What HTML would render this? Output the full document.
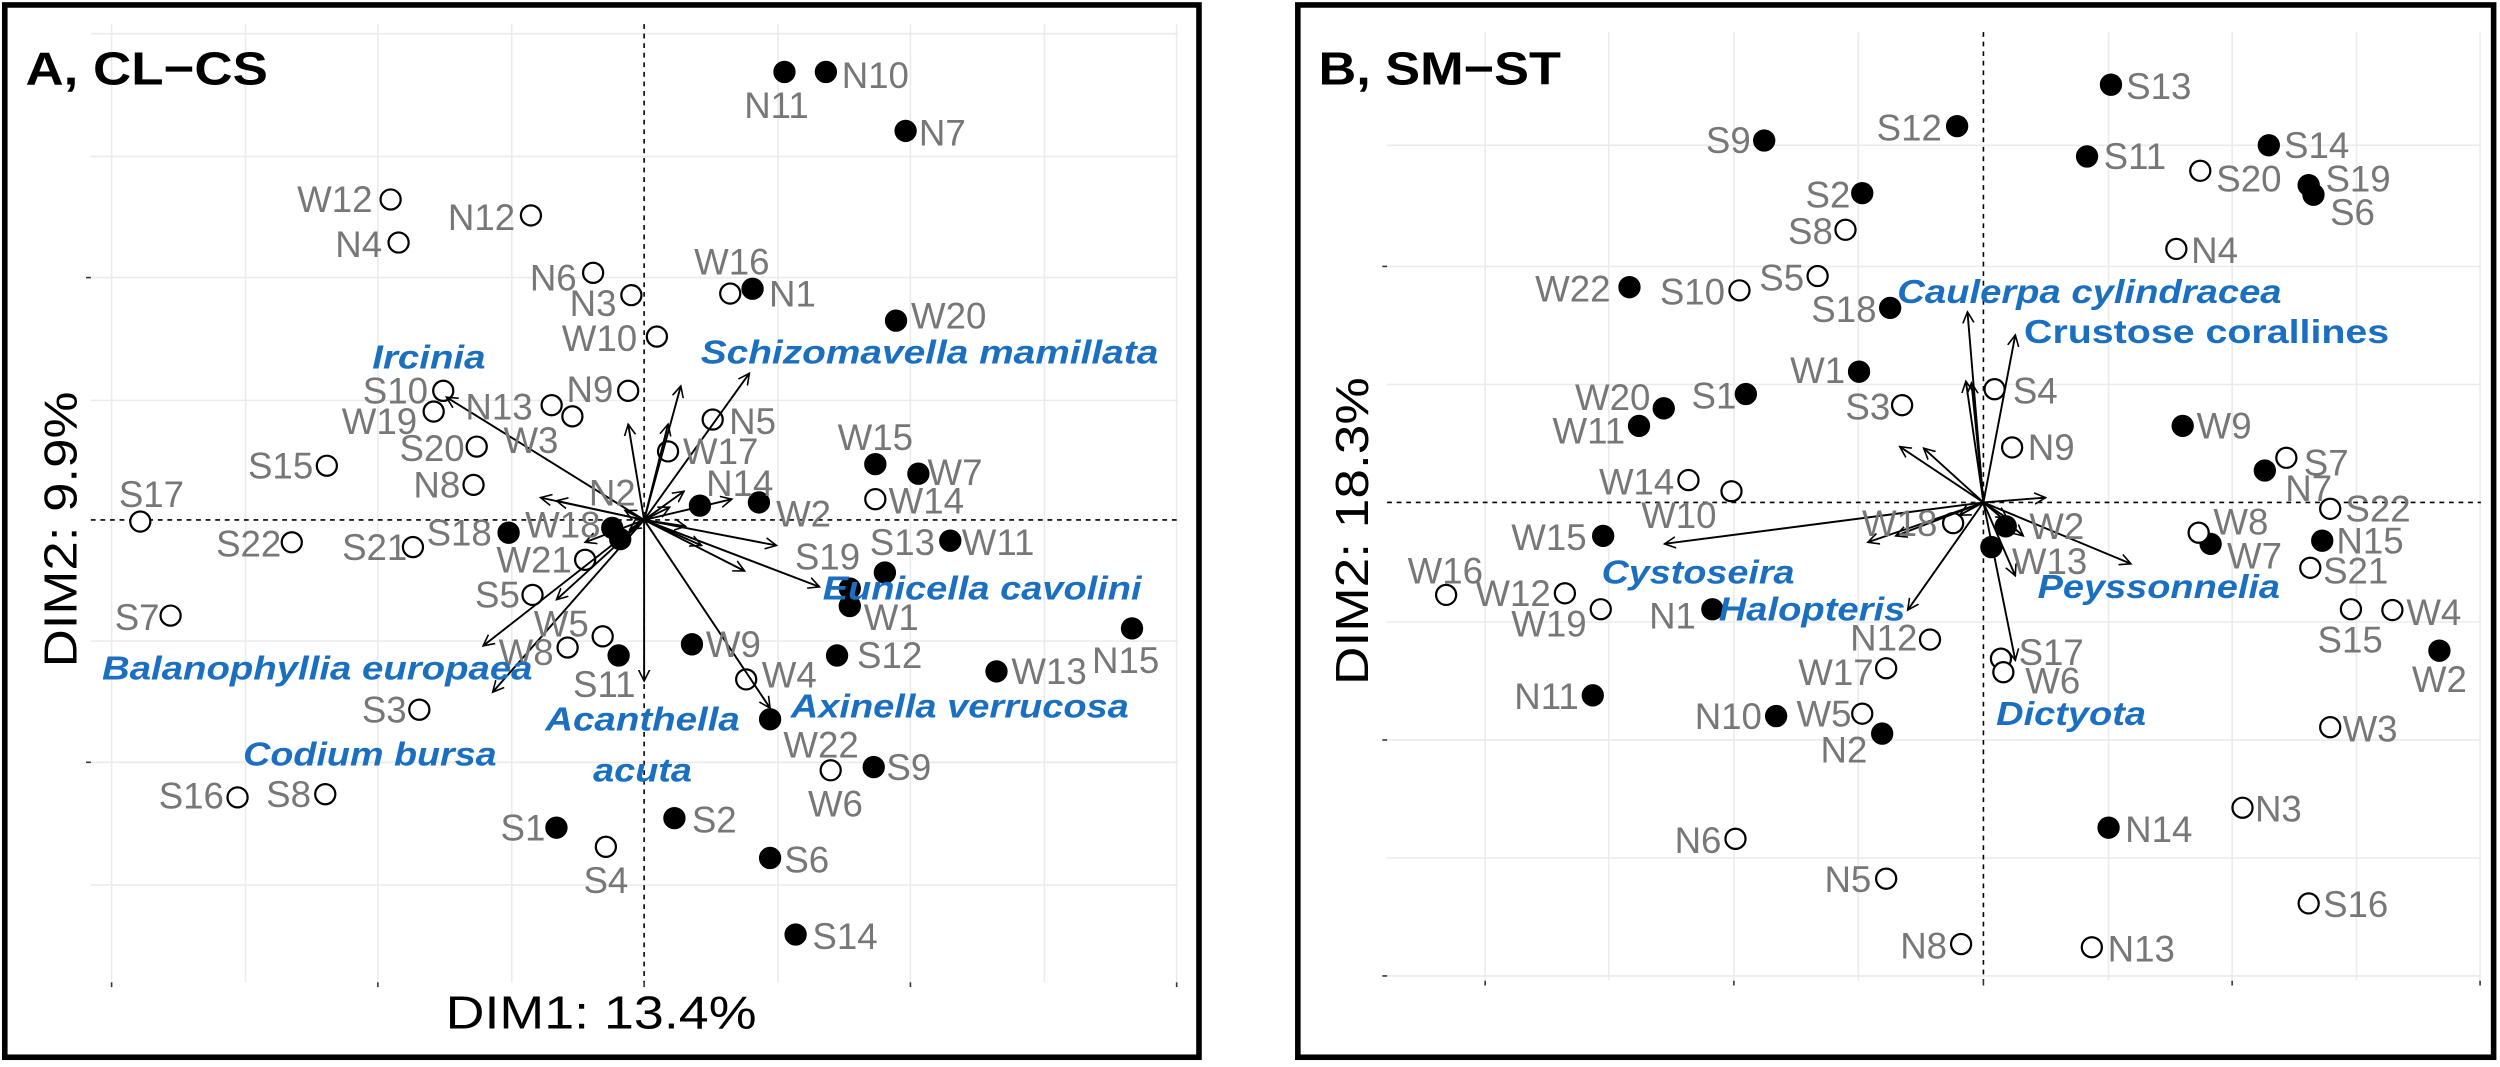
<!DOCTYPE html>
<html><head><meta charset="utf-8"><style>
html,body{margin:0;padding:0;background:#fff;}
svg{display:block;font-family:"Liberation Sans",sans-serif;}
</style></head><body>
<svg id="fig" width="2500" height="1067" viewBox="0 0 1568 669" xmlns="http://www.w3.org/2000/svg">
<defs><marker id="ah" markerWidth="8" markerHeight="8" refX="7" refY="4" orient="auto" markerUnits="userSpaceOnUse"><path d="M0,0.5 L7,4 L0,7.5" fill="none" stroke="#000" stroke-width="1"/></marker></defs>
<rect x="0" y="0" width="1568" height="669" fill="#fff"/>
<g id="panelA"></g>
<g id="panelB"></g>
</svg>
<script>
// ---------- Panel A data (units = tenths of plot offset from origin) ----------
const aNames=["N11","N10","N7","N1","W20","W15","W7","W11","S13","S19","W1","W2","N14","S18","W18","N2","S11","W9","S12","W13","N15","W22","S9","S2","S1","S6","S14","W12","N12","N4","N6","N3","W16","W10","S10","N9","N13","W3","W19","N5","S20","W17","S15","N8","W14","S17","S22","S21","W21","S5","S7","W5","W8","W4","S3","W6","S16","S8","S4"];
const aFilled=[1,1,1,1,1,1,1,1,1,1,1,1,1,1,1,1,1,1,1,1,1,1,1,1,1,1,1,0,0,0,0,0,0,0,0,0,0,0,0,0,0,0,0,0,0,0,0,0,0,0,0,0,0,0,0,0,0,0,0];
const aX=[8.8,11.4,16.4,6.8,15.8,14.5,17.2,19.2,15.1,12.9,12.9,7.2,3.5,-8.5,-2.0,-1.5,-1.6,3.0,12.1,22.1,30.6,7.9,14.4,1.9,-5.5,7.9,9.5,-15.9,-7.1,-15.4,-3.2,-0.8,5.4,0.8,-12.6,-1.0,-5.8,-4.5,-13.2,4.3,-10.5,1.5,-19.9,-10.7,14.5,-31.6,-22.1,-14.5,-3.7,-7.0,-29.7,-2.6,-4.8,6.4,-14.1,11.7,-25.5,-20.0,-2.4];
const aY=[28.1,28.1,24.4,14.5,12.5,3.5,2.9,-1.3,-3.3,-4.3,-5.4,1.1,0.9,-0.8,-0.5,-1.2,-8.5,-7.8,-8.5,-9.5,-6.8,-12.5,-15.5,-18.7,-19.3,-21.2,-26.0,20.1,19.1,17.4,15.5,14.1,14.2,11.5,8.1,8.1,7.2,6.5,6.8,6.3,4.6,4.3,3.4,2.2,1.3,-0.1,-1.4,-1.7,-2.5,-4.7,-6.0,-7.3,-8.0,-10.0,-11.9,-15.7,-17.4,-17.2,-20.5];
const aLabOff=[[-5,21],[31,2],[23,1],[25,3],[33,-3],[0,-17],[23,-1],[30,1],[11,-19],[-14,-20],[26,7],[28,7],[25,-14],[-31,0],[-31,-2],[-5,-29],[-9,18],[26,0],[33,0],[33,0],[-4,20],[32,16],[22,0],[25,1],[-21,0],[23,1],[31,1],[-35,0],[-31,1],[-25,1],[-25,3],[-24,5],[1,-20],[-36,1],[-30,0],[-24,-1],[-33,1],[-26,15],[-34,6],[25,1],[-28,1],[33,0],[-29,0],[-23,0],[32,1],[7,-17],[-27,1],[-24,0],[-32,0],[-22,0],[-21,1],[-26,-8],[-26,3],[27,-3],[-22,0],[3,21],[-29,-1],[-23,0],[0,21]];
const aArrX=[-12.4,6.6,11.0,-10.1,-9.5,7.9,0,2.3,-1.0,-6.5,-5.5,8.3,6.3,5.5,3.6,-5.5,-3.7,1.5,2.5,1.6,-1.2,2.6,-0.9];
const aArrY=[7.7,9.2,-4.2,-7.9,-10.8,-11.8,-10.1,8.4,6.0,1.4,1.2,-1.6,-3.2,1.3,-1.6,-5.0,-1.4,6.0,1.8,0.8,0.6,-0.4,-0.6];
const aSpecies=["Ircinia","Schizomavella mamillata","Eunicella cavolini","Balanophyllia europaea","Axinella verrucosa","Acanthella","acuta","Codium bursa"];
// ---------- Panel B data ----------
const bNames=["S13","S12","S9","S11","S14","S19","S6","S2","W22","S18","W1","S1","W20","W11","W9","N7","W15","W2","W13","W7","N15","N1","W2","N11","N10","N2","N14","S20","S8","N4","S5","S10","S4","S3","N9","S7","W14","W10","S22","W18","W8","S21","W16","W12","W19","S15","W4","N12","S17","W6","W17","W5","W3","N3","N6","N5","S16","N8","N13"];
const bFilled=[1,1,1,1,1,1,1,1,1,1,1,1,1,1,1,1,1,1,1,1,1,1,1,1,1,1,1,0,0,0,0,0,0,0,0,0,0,0,0,0,0,0,0,0,0,0,0,0,0,0,0,0,0,0,0,0,0,0,0];
const bX=[8.0,-1.65,-13.75,6.5,17.9,20.4,20.7,-7.6,-22.2,-5.85,-7.8,-14.9,-20.05,-21.6,12.5,17.65,-23.85,1.4,0.5,14.25,21.25,-17.0,28.6,-24.5,-13.0,-6.35,7.85,13.6,-8.65,12.1,-10.4,-15.3,0.7,-5.1,1.8,19.0,-18.5,-15.8,21.75,-1.9,13.5,20.5,-33.7,-26.25,-24.0,23.05,25.65,-3.35,1.1,1.25,-6.1,-7.6,21.75,16.25,-15.55,-6.1,20.4,-1.4,6.8];
const bY=[26.2,23.6,22.7,21.7,22.4,19.9,19.3,19.4,13.5,12.2,8.2,6.8,5.9,4.8,4.8,2.0,-2.1,-1.5,-2.8,-2.6,-2.4,-6.7,-9.3,-12.1,-13.4,-14.5,-20.4,20.8,17.1,15.9,14.2,13.3,7.1,6.1,3.45,2.8,1.4,0.7,-0.4,-1.3,-1.9,-4.1,-5.8,-5.7,-6.7,-6.7,-6.75,-8.6,-9.8,-10.65,-10.4,-13.25,-14.1,-19.15,-21.1,-23.6,-25.15,-27.7,-27.9];
const bLabOff=[[30,1],[-30,1],[-22.5,0],[30,0],[30,0],[31,-4],[24.5,11],[-21.5,1],[-35.5,1],[-29,1],[-26,-1],[-20,1],[-32,-7],[-31.5,3],[26,0],[27.5,11],[-34,1],[32,0],[36.5,9],[27.5,7.5],[30,0],[-25,4],[0,18],[-29,0.5],[-30,0],[-24,10],[31.5,1],[30.5,5],[-22,1],[24,1],[-22.5,1],[-29.5,1],[25.5,1],[-21.5,1],[24.5,0],[25,3],[-32.5,1],[-33,15],[30,0],[-33.5,0],[26.5,-7],[28.5,2],[-0.5,-15],[-32.5,0],[-32.5,9],[-0.5,19],[26,1.5],[-29,-1],[31.5,-4],[31,5.5],[-31.5,2.5],[-24,0],[25,1],[22.5,0.5],[-23.5,1],[-24,0.5],[29.5,0.5],[-23.5,1],[31,1]];
const bArrX=[-1.0,2.0,-0.75,-1.1,-20.0,-7.25,-4.75,9.25,3.9,2.0,2.0,-5.25,-3.75,2.5,-5.5,1.5,-1.5];
const bArrY=[11.95,10.5,7.5,7.6,-2.6,-2.5,-6.75,-3.85,0.3,-9.9,-4.6,3.5,3.4,-2.1,-2.1,-1.0,-0.8];
const bSpecies=["Caulerpa cylindracea","Crustose corallines","Cystoseira","Halopteris","Peyssonnelia","Dictyota"];

const NS="http://www.w3.org/2000/svg";
function mk(parent,tag,attrs,txt){const e=document.createElementNS(NS,tag);for(const k in attrs)e.setAttribute(k,attrs[k]);if(txt!==undefined)e.textContent=txt;parent.appendChild(e);return e;}

function panel(g,cfg){
  const sx=v=>cfg.ox+v*10, sy=v=>cfg.oy-v*10;
  const border=mk(g,"rect",{x:cfg.bx,y:3,width:cfg.bw,height:660,fill:"#fff",stroke:"#000","stroke-width":3.5});
  
  
  const grid=mk(g,"g",{});
  
  
  cfg.gx.forEach(x=>mk(grid,"line",{x1:x,x2:x,y1:cfg.py0,y2:cfg.py1,stroke:"#ebebeb","stroke-width":1}));
  cfg.gy.forEach(y=>mk(grid,"line",{x1:cfg.px0,x2:cfg.px1,y1:y,y2:y,stroke:"#ebebeb","stroke-width":1}));
  cfg.tx.forEach(x=>mk(grid,"line",{x1:x,x2:x,y1:cfg.py1,y2:cfg.py1+3,stroke:"#333","stroke-width":1}));
  cfg.ty.forEach(y=>mk(grid,"line",{x1:cfg.px0-3,x2:cfg.px0,y1:y,y2:y,stroke:"#333","stroke-width":1}));
  const vd=mk(g,"line",{x1:cfg.ox,x2:cfg.ox,y1:cfg.py0,y2:cfg.py1,stroke:"#000","stroke-width":1,"stroke-dasharray":"3,3"});
  
  
  const hd=mk(g,"line",{x1:cfg.px0,x2:cfg.px1,y1:cfg.oy,y2:cfg.oy,stroke:"#000","stroke-width":1,"stroke-dasharray":"3,3"});
  
  
  // points
  cfg.names.forEach((n,i)=>{
    const c=mk(g,"circle",{cx:sx(cfg.xs[i]),cy:sy(cfg.ys[i]),r:6.3,fill:cfg.filled[i]?"#000":"#fff",stroke:"#000","stroke-width":1.4});
    
    
  });
  // arrows
  cfg.ax.forEach((v,i)=>{
    const l=mk(g,"line",{x1:cfg.ox,y1:cfg.oy,x2:sx(v),y2:sy(cfg.ay[i]),stroke:"#000","stroke-width":1.2,"marker-end":"url(#ah)"});
    
    
  });
  // labels
  cfg.names.forEach((n,i)=>{
    const o=cfg.off[i];
    const t=mk(g,"text",{x:sx(cfg.xs[i])+o[0],y:sy(cfg.ys[i])+o[1]+8,"font-size":23,fill:"#777","text-anchor":"middle"},n);
    
    
  });
  cfg.sp.forEach((s,i)=>{
    const p=cfg.spPos[i];
    const t=mk(g,"text",{x:p[0],y:p[1]+7,"font-size":21,"font-weight":"bold","font-style":p[3]?"normal":"italic",fill:"#1a6fc1","text-anchor":"middle",textLength:p[2],lengthAdjust:"spacingAndGlyphs"},s);
    
    
  });
  const ti=mk(g,"text",{x:cfg.bx+13,y:53,"font-size":29,"font-weight":"bold",fill:"#000",textLength:152,lengthAdjust:"spacingAndGlyphs"},cfg.title);
  
  
  const xt=mk(g,"text",{x:cfg.xtx,y:645,"font-size":29,fill:"#000","text-anchor":"middle",textLength:cfg.xtw,lengthAdjust:"spacingAndGlyphs"},cfg.xtitle);
  
  
  const yt=mk(g,"text",{x:0,y:0,"font-size":29,fill:"#000","text-anchor":"middle",textLength:cfg.ytw,lengthAdjust:"spacingAndGlyphs",transform:`translate(${cfg.ytx},${cfg.yty}) rotate(-90)`},cfg.ytitle);
  
  
}

panel(document.getElementById("panelA"),{
  bx:3,bw:749,ox:404,oy:326,px0:57,px1:739,py0:15,py1:616,
  gx:[70,154,237,321,488,571,655,738],gy:[21,98,174,251,402,478,555],
  tx:[70,237,404,571,738],ty:[174,478],
  names:aNames,filled:aFilled,xs:aX,ys:aY,off:aLabOff,ax:aArrX,ay:aArrY,sp:aSpecies,
  spPos:[[269,224,71],[583,221,287],[616,369,200],[199,419,270],[602,443,212],[403,451,122],[403,483,62],[232,473,159]],
  title:"A, CL\u2212CS",xtitle:"DIM1: 13.4%",xtx:377,xtw:195,ytitle:"DIM2: 9.9%",ytx:48,yty:332,ytw:173
});
panel(document.getElementById("panelB"),{
  bx:814,bw:750,ox:1244,oy:315,px0:870,px1:1556,py0:20,py1:615,
  gx:[931.5,1009,1087.5,1165.5,1322.5,1400,1478,1555.5],gy:[91,167,241,390,464,538,612],
  tx:[931.5,1087.5,1244,1400,1555.5],ty:[167,464,612],
  names:bNames,filled:bFilled,xs:bX,ys:bY,off:bLabOff,ax:bArrX,ay:bArrY,sp:bSpecies,
  spPos:[[1310.5,183,241],[1384,208,229,1],[1065,359,121],[1136.5,382,117],[1354,368,152],[1299,447.5,94]],
  title:"B, SM\u2212ST",xtx:1188,xtw:196,ytitle:"DIM2: 18.3%",ytx:858,yty:333,ytw:193
});
</script>
</body></html>
